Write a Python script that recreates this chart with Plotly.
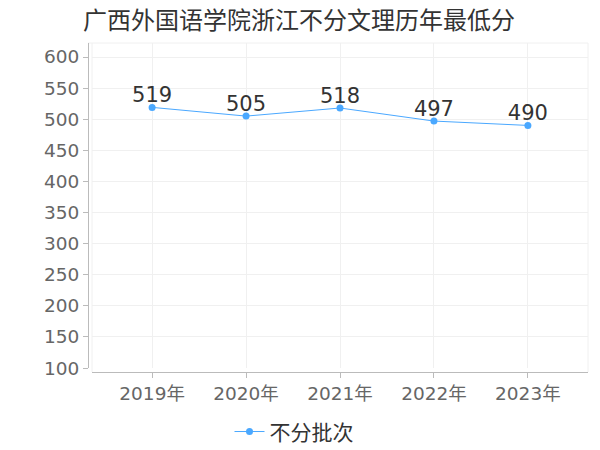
import plotly.graph_objects as go

years = ["2019年", "2020年", "2021年", "2022年", "2023年"]
scores = [519, 505, 518, 497, 490]
series_name = "不分批次"
title = "广西外国语学院浙江不分文理历年最低分"
y_ticks = [100, 150, 200, 250, 300, 350, 400, 450, 500, 550, 600]

FONT = "DejaVu Sans, Noto Sans CJK SC"
BLUE = "#4aa8ff"

fig = go.Figure()
fig.add_trace(go.Scatter(
    x=years, y=scores, name=series_name,
    mode="lines+markers",
    line=dict(color=BLUE, width=1),
    marker=dict(color=BLUE, size=7),
))
fig.add_trace(go.Scatter(
    x=years, y=scores, mode="text", showlegend=False, hoverinfo="skip",
    text=[str(v) for v in scores],
    textposition="top center",
    textfont=dict(size=21, color="#333333", family=FONT),
))

# plot-area frame gridlines (left/right/top)
for xv in [0, 1]:
    fig.add_shape(type="line", xref="x domain", yref="paper", x0=xv, x1=xv, y0=0, y1=1,
                  line=dict(color="#f0f0f0", width=1), layer="below")
fig.add_shape(type="line", xref="paper", yref="paper", x0=0, x1=1, y0=1, y1=1,
              line=dict(color="#f0f0f0", width=1), layer="below")

fig.update_layout(
    width=600, height=450,
    margin=dict(l=80, r=20, t=35, b=86, autoexpand=False),
    paper_bgcolor="white", plot_bgcolor="white",
    title=dict(text=title, x=0.485, xanchor="center", y=0.972, yanchor="middle",
               font=dict(size=24, color="#333333", family=FONT)),
    font=dict(family=FONT),
    showlegend=True,
    legend=dict(orientation="h", x=0.412, xanchor="center", y=-0.182, yanchor="middle",
                font=dict(size=21, color="#333333", family=FONT), itemwidth=30),
    xaxis=dict(
        type="category", range=[-0.64, 4.64], domain=[0.008, 1],
        anchor="free", position=0, automargin=False,
        showgrid=True, gridcolor="#f0f0f0", gridwidth=1,
        showline=True, linecolor="#bbbbbb", linewidth=1,
        ticks="outside", ticklen=5, tickcolor="#bbbbbb",
        tickfont=dict(size=18.5, color="#666666", family=FONT),
        zeroline=False,
    ),
    yaxis=dict(
        range=[100, 622.5], domain=[0.012, 1],
        anchor="free", position=0, automargin=False,
        tickvals=y_ticks,
        showgrid=True, gridcolor="#f0f0f0", gridwidth=1,
        showline=True, linecolor="#bbbbbb", linewidth=1,
        ticks="outside", ticklen=5, tickcolor="#bbbbbb",
        tickfont=dict(size=18.5, color="#666666", family=FONT),
        zeroline=False,
    ),
)

fig.write_html("out.html")
